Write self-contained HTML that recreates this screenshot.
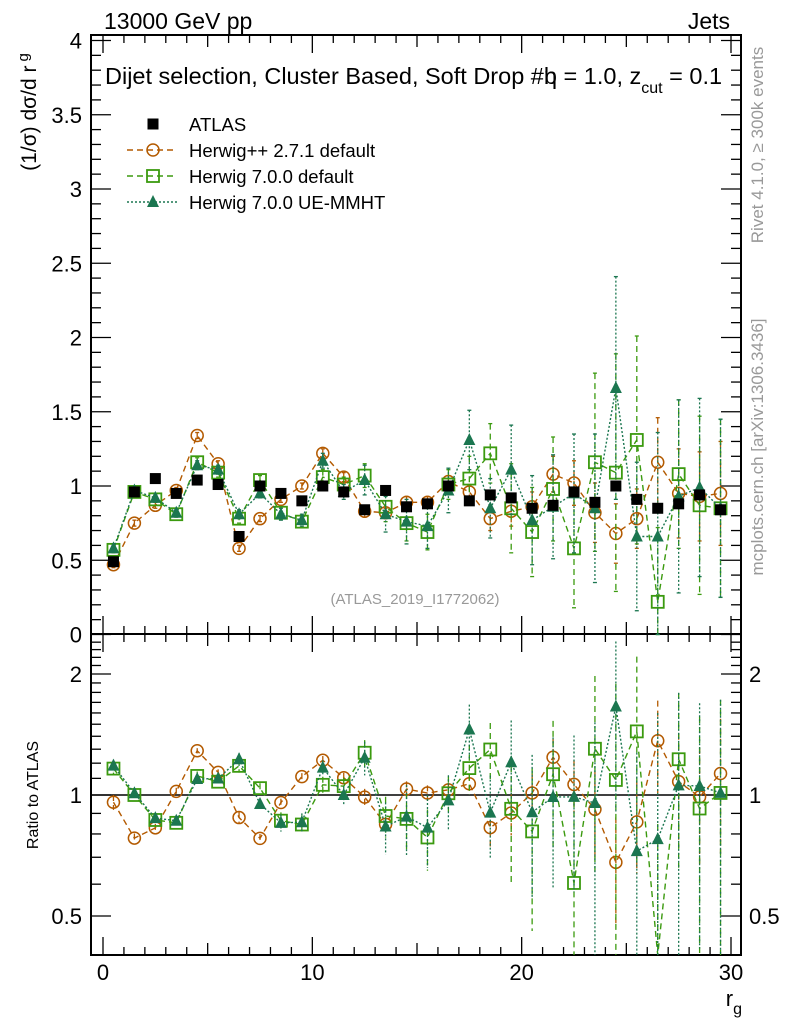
<!DOCTYPE html>
<html><head><meta charset="utf-8">
<style>
html,body{margin:0;padding:0;background:#fff;}
svg{display:block;font-family:"Liberation Sans",sans-serif;}
</style></head>
<body>
<svg id="chart" width="786" height="1024" viewBox="0 0 786 1024" xmlns="http://www.w3.org/2000/svg">
<text x="104" y="29" font-size="23">13000 GeV pp</text>
<text x="730" y="29" font-size="23" text-anchor="end">Jets</text>
<text transform="translate(36,112) rotate(-90)" font-size="21" text-anchor="middle">(1/σ) dσ/d r<tspan dx="4" dy="-8" font-size="15">g</tspan></text>
<text transform="translate(763,447) rotate(-90)" font-size="17" fill="#999" text-anchor="middle">mcplots.cern.ch [arXiv:1306.3436]</text>
<text transform="translate(763,145) rotate(-90)" font-size="17" fill="#999" text-anchor="middle">Rivet 4.1.0, ≥ 300k events</text>
<text x="105" y="84" font-size="23.5">Dijet selection, Cluster Based, Soft Drop #b<tspan dx="-13">η = 1.0, z</tspan><tspan dy="9" font-size="16">cut</tspan><tspan dy="-9"> = 0.1</tspan></text>
<text x="415" y="604" font-size="15" fill="#999" text-anchor="middle">(ATLAS_2019_I1772062)</text>
<text transform="translate(38,795) rotate(-90)" font-size="16" text-anchor="middle">Ratio to ATLAS</text>
<text x="742" y="1006" font-size="22" text-anchor="end">r<tspan dy="8" font-size="16">g</tspan></text>
<g id="axes"></g>
<g id="marks"></g>
<g id="legend"></g>
</svg>
<script>
const xCenters=[0.5,1.5,2.5,3.5,4.5,5.5,6.5,7.5,8.5,9.5,10.5,11.5,12.5,13.5,14.5,15.5,16.5,17.5,18.5,19.5,20.5,21.5,22.5,23.5,24.5,25.5,26.5,27.5,28.5,29.5];
const atlas=[0.49,0.96,1.05,0.95,1.04,1.01,0.66,1.0,0.95,0.9,1.0,0.96,0.84,0.97,0.86,0.88,1.0,0.9,0.94,0.92,0.85,0.87,0.96,0.89,1.0,0.91,0.85,0.88,0.94,0.84];
const hpp=[0.47,0.75,0.87,0.97,1.34,1.15,0.58,0.78,0.91,1.0,1.22,1.06,0.83,0.82,0.89,0.89,1.03,0.96,0.78,0.83,0.86,1.08,1.02,0.82,0.68,0.78,1.16,0.95,0.93,0.95];
const hppErr=[0.02,0.02,0.02,0.02,0.02,0.02,0.02,0.02,0.02,0.02,0.03,0.03,0.04,0.03,0.04,0.04,0.04,0.05,0.08,0.1,0.1,0.12,0.15,0.2,0.2,0.2,0.3,0.3,0.3,0.35];
const h7=[0.57,0.96,0.91,0.81,1.16,1.09,0.78,1.04,0.82,0.76,1.06,1.01,1.07,0.86,0.75,0.69,1.01,1.05,1.22,0.85,0.69,0.98,0.58,1.16,1.09,1.31,0.22,1.08,0.87,0.85];
const h7Err=[0.02,0.02,0.02,0.02,0.03,0.03,0.03,0.03,0.04,0.04,0.05,0.05,0.08,0.1,0.12,0.12,0.1,0.15,0.2,0.3,0.3,0.35,0.4,0.6,0.8,0.7,0.5,0.5,0.6,0.6];
const ue=[0.58,0.97,0.92,0.82,1.14,1.11,0.81,0.95,0.81,0.77,1.17,0.96,1.04,0.81,0.76,0.73,0.97,1.31,0.85,1.11,0.77,0.86,0.95,0.85,1.66,0.66,0.66,0.93,0.99,0.85];
const ueErr=[0.02,0.02,0.02,0.02,0.03,0.03,0.03,0.03,0.04,0.04,0.05,0.05,0.1,0.12,0.15,0.15,0.15,0.2,0.2,0.3,0.3,0.35,0.4,0.5,0.75,0.5,0.7,0.65,0.6,0.6];
const yTicks=[0,0.5,1,1.5,2,2.5,3,3.5,4];
const yTickLabels=["0","0.5","1","1.5","2","2.5","3","3.5","4"];
const xTicks=[0,10,20,30];
const rTicks=[0.5,1,2];
const rTickLabels=["0.5","1","2"];

const NS="http://www.w3.org/2000/svg";
const L=91,R=741,T=35,MB=634,RB=955;
const xs=v=>103+v*(731-103)/30;
const ys=v=>634.5-v*148.5;
const rs=v=>795-Math.log2(v)*121;
function mk(tag,attrs,parent){const e=document.createElementNS(NS,tag);for(const k in attrs)e.setAttribute(k,attrs[k]);parent.appendChild(e);return e;}
const axes=document.getElementById('axes'), marks=document.getElementById('marks'), leg=document.getElementById('legend');

let f1=mk('rect',{x:L,y:T,width:R-L,height:MB-T,fill:'none',stroke:'#000','stroke-width':2},axes);


let f2=mk('rect',{x:L,y:MB,width:R-L,height:RB-MB,fill:'none',stroke:'#000','stroke-width':2},axes);



for(let v=0;v<=4.001;v+=0.1){const y=ys(v);const maj=Math.abs(v*2-Math.round(v*2))<1e-6;const len=maj?20:10;
 mk('line',{x1:L,x2:L+len,y1:y,y2:y,stroke:'#000','stroke-width':1.3},axes);
 mk('line',{x1:R,x2:R-len,y1:y,y2:y,stroke:'#000','stroke-width':1.3},axes);}
yTicks.forEach((v,i)=>{const t=mk('text',{x:82,y:ys(v)+8,'font-size':22,'text-anchor':'end'},axes);t.textContent=yTickLabels[i];
 
 });
for(let v=0;v<=30;v++){const x=xs(v);const maj=v%10===0;const len=maj?18:(v%5===0?12:8);
 [T,MB].forEach(y0=>mk('line',{x1:x,x2:x,y1:y0,y2:y0+len,stroke:'#000','stroke-width':1.3},axes));
 [MB,RB].forEach(y0=>mk('line',{x1:x,x2:x,y1:y0,y2:y0-len,stroke:'#000','stroke-width':1.3},axes));}
xTicks.forEach(v=>{const t=mk('text',{x:xs(v),y:980,'font-size':22,'text-anchor':'middle'},axes);t.textContent=v;
 
 });
[0.4,0.5,0.6,0.7,0.8,0.9,1,1.1,1.2,1.3,1.4,1.5,1.6,1.7,1.8,1.9,2,2.1,2.2,2.3,2.4].forEach(v=>{const y=rs(v);if(y<MB||y>RB)return;const maj=rTicks.includes(v);const len=maj?20:10;
 mk('line',{x1:L,x2:L+len,y1:y,y2:y,stroke:'#000','stroke-width':1.3},axes);
 mk('line',{x1:R,x2:R-len,y1:y,y2:y,stroke:'#000','stroke-width':1.3},axes);});
rTicks.forEach((v,i)=>{let t=mk('text',{x:82,y:rs(v)+8,'font-size':22,'text-anchor':'end'},axes);t.textContent=rTickLabels[i];
 
 
 t=mk('text',{x:749,y:rs(v)+8,'font-size':22},axes);t.textContent=rTickLabels[i];
 
 });
mk('line',{x1:L,x2:R,y1:rs(1),y2:rs(1),stroke:'#000','stroke-width':1.5},axes);

function marker(type,x,y,color,parent){
 if(type==='circle')return mk('circle',{cx:x,cy:y,r:6,fill:'none',stroke:color,'stroke-width':1.5},parent);
 if(type==='square')return mk('rect',{x:x-6,y:y-6,width:12,height:12,fill:'none',stroke:color,'stroke-width':1.8},parent);
 if(type==='tri')return mk('polygon',{points:`${x},${y-7} ${x-6},${y+5} ${x+6},${y+5}`,fill:color},parent);
 return mk('rect',{x:x-5.5,y:y-5.5,width:11,height:11,fill:color},parent);
}
function clipY(y,top,bot){return Math.max(top,Math.min(bot,y));}
function series(name,vals,errs,color,dash,type){
 const g=mk('g',{},marks);
 
 
 let pts=xCenters.map((x,i)=>xs(x)+','+ys(vals[i])).join(' ');
 mk('polyline',{points:pts,fill:'none',stroke:color,'stroke-width':1.4,'stroke-dasharray':dash},g);
 const rat=vals.map((v,i)=>v/atlas[i]);
 let rp=xCenters.map((x,i)=>xs(x)+','+clipY(rs(rat[i]),MB,RB)).join(' ');
 mk('polyline',{points:rp,fill:'none',stroke:color,'stroke-width':1.4,'stroke-dasharray':dash},g);
 xCenters.forEach((x,i)=>{
  const X=xs(x);
  const y1=ys(vals[i]+errs[i]),y2=ys(Math.max(0,vals[i]-errs[i]));
  mk('line',{x1:X,x2:X,y1:y1,y2:y2,stroke:color,'stroke-width':1.3,'stroke-dasharray':dash},g);
  mk('line',{x1:X-2,x2:X+2,y1:y1,y2:y1,stroke:color,'stroke-width':1.3},g);
  mk('line',{x1:X-2,x2:X+2,y1:y2,y2:y2,stroke:color,'stroke-width':1.3},g);
  const m=marker(type,X,ys(vals[i]),color,g);
  
  
  const re=errs[i]/atlas[i];
  const ry1=clipY(rs(rat[i]+re),MB,RB),ry2=clipY(rs(Math.max(0.01,rat[i]-re)),MB,RB);
  mk('line',{x1:X,x2:X,y1:ry1,y2:ry2,stroke:color,'stroke-width':1.3,'stroke-dasharray':dash},g);
  const ry=rs(rat[i]);
  if(ry>=MB&&ry<=RB){const rm=marker(type,X,ry,color,g);
   
   }
 });
}
series('herwigpp',hpp,hppErr,'#b35a00','6,4','circle');
series('herwig7-default',h7,h7Err,'#3b9a0f','6,4','square');
series('herwig7-ue-mmht',ue,ueErr,'#1b7650','2,2','tri');
const ga=mk('g',{},marks);


xCenters.forEach((x,i)=>{const m=marker('data',xs(x),ys(atlas[i]),'#000',ga);
 
 });

const items=[['ATLAS','data','#000',null],['Herwig++ 2.7.1 default','circle','#b35a00','6,4'],['Herwig 7.0.0 default','square','#3b9a0f','6,4'],['Herwig 7.0.0 UE-MMHT','tri','#1b7650','2,2']];
items.forEach((it,i)=>{const y=124+i*26;
 const g=mk('g',{},leg);
 
 
 if(it[3])mk('line',{x1:127,x2:177,y1:y,y2:y,stroke:it[2],'stroke-width':1.4,'stroke-dasharray':it[3]},g);
 marker(it[1],153,y,it[2],g);
 const t=mk('text',{x:189,y:y+7,'font-size':18.5},g);t.textContent=it[0];});
</script>
</body></html>
